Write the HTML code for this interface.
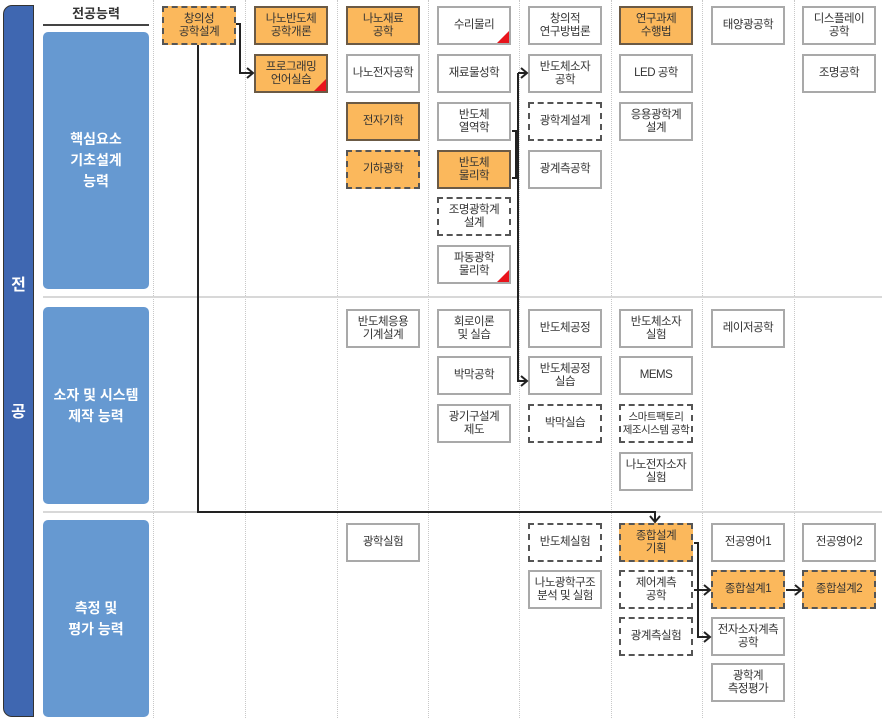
<!DOCTYPE html>
<html><head><meta charset="utf-8"><style>
*{margin:0;padding:0;box-sizing:border-box}
body{width:882px;height:728px;background:#fff;position:relative;overflow:hidden;font-family:"Liberation Sans","Noto Sans CJK KR",sans-serif}
.b{position:absolute;width:74px;height:39px;border:2px solid #a9a9a9;background:#fff;display:flex;align-items:center;justify-content:center;text-align:center;font-size:11.5px;line-height:13px;color:#333;letter-spacing:-0.5px;overflow:hidden}
.o{background:#fbb85c;border-color:#6b5a45}
.d{border:2px dashed #555}
.t::after{content:"";position:absolute;right:0;bottom:0;border-style:solid;border-width:0 0 12px 12px;border-color:transparent transparent #e8141c transparent}
.vd{position:absolute;top:0;height:718px;border-left:1px dotted #c8c8c8}
.hs{position:absolute;left:43px;right:0;height:2px;background:#d8d8d8}
.p{position:absolute;left:43px;width:106px;background:#6699d1;border-radius:5px;color:#fff;font-weight:bold;font-size:14px;line-height:21px;display:flex;align-items:center;justify-content:center;text-align:center}
</style></head><body>
<div style="position:absolute;left:3px;top:5px;width:31px;height:712px;background:#3f67b1;border:1.5px solid #333;border-radius:9px 0 0 9px"></div>
<div style="position:absolute;left:3px;width:31px;top:271px;text-align:center;color:#fff;font-weight:bold;font-size:16px">전</div>
<div style="position:absolute;left:3px;width:31px;top:398px;text-align:center;color:#fff;font-weight:bold;font-size:16px">공</div>
<div style="position:absolute;left:43px;width:106px;top:3px;text-align:center;font-weight:bold;font-size:13px;color:#333">전공능력</div>
<div style="position:absolute;left:43px;width:106px;top:24px;height:2px;background:#444"></div>

<div class="vd" style="left:153px"></div><div class="vd" style="left:245px"></div><div class="vd" style="left:337px"></div><div class="vd" style="left:428px"></div><div class="vd" style="left:519px"></div><div class="vd" style="left:611px"></div><div class="vd" style="left:702px"></div><div class="vd" style="left:794px"></div>
<div class="hs" style="top:296px"></div><div class="hs" style="top:511px"></div>

<div class="p" style="top:32px;height:257px">핵심요소<br>기초설계<br>능력</div>
<div class="p" style="top:307px;height:197px">소자 및 시스템<br>제작 능력</div>
<div class="p" style="top:520px;height:197px">측정 및<br>평가 능력</div>

<div class="b o d" style="left:162px;top:6px">창의성<br>공학설계</div>
<div class="b o" style="left:254px;top:6px">나노반도체<br>공학개론</div>
<div class="b o t" style="left:254px;top:54px">프로그래밍<br>언어실습</div>
<div class="b o" style="left:346px;top:6px">나노재료<br>공학</div>
<div class="b" style="left:346px;top:54px">나노전자공학</div>
<div class="b o" style="left:346px;top:102px">전자기학</div>
<div class="b o d" style="left:346px;top:150px">기하광학</div>
<div class="b t" style="left:437px;top:6px">수리물리</div>
<div class="b" style="left:437px;top:54px">재료물성학</div>
<div class="b" style="left:437px;top:102px">반도체<br>열역학</div>
<div class="b o" style="left:437px;top:150px">반도체<br>물리학</div>
<div class="b d" style="left:437px;top:197px">조명광학계<br>설계</div>
<div class="b t" style="left:437px;top:245px">파동광학<br>물리학</div>
<div class="b" style="left:528px;top:6px">창의적<br>연구방법론</div>
<div class="b" style="left:528px;top:54px">반도체소자<br>공학</div>
<div class="b d" style="left:528px;top:102px">광학계설계</div>
<div class="b" style="left:528px;top:150px">광계측공학</div>
<div class="b o" style="left:619px;top:6px">연구과제<br>수행법</div>
<div class="b" style="left:619px;top:54px">LED 공학</div>
<div class="b" style="left:619px;top:102px">응용광학계<br>설계</div>
<div class="b" style="left:711px;top:6px">태양광공학</div>
<div class="b" style="left:802px;top:6px">디스플레이<br>공학</div>
<div class="b" style="left:802px;top:54px">조명공학</div>

<div class="b" style="left:346px;top:309px">반도체응용<br>기계설계</div>
<div class="b" style="left:437px;top:309px">회로이론<br>및 실습</div>
<div class="b" style="left:437px;top:356px">박막공학</div>
<div class="b" style="left:437px;top:404px">광기구설계<br>제도</div>
<div class="b" style="left:528px;top:309px">반도체공정</div>
<div class="b" style="left:528px;top:356px">반도체공정<br>실습</div>
<div class="b d" style="left:528px;top:404px">박막실습</div>
<div class="b" style="left:619px;top:309px">반도체소자<br>실험</div>
<div class="b" style="left:619px;top:356px">MEMS</div>
<div class="b d" style="left:619px;top:404px;font-size:10.5px">스마트팩토리<br>제조시스템 공학</div>
<div class="b" style="left:619px;top:452px">나노전자소자<br>실험</div>
<div class="b" style="left:711px;top:309px">레이저공학</div>

<div class="b" style="left:346px;top:523px">광학실험</div>
<div class="b d" style="left:528px;top:523px">반도체실험</div>
<div class="b" style="left:528px;top:570px">나노광학구조<br>분석 및 실험</div>
<div class="b o d" style="left:619px;top:523px">종합설계<br>기획</div>
<div class="b d" style="left:619px;top:570px">제어계측<br>공학</div>
<div class="b d" style="left:619px;top:617px">광계측실험</div>
<div class="b" style="left:711px;top:523px">전공영어1</div>
<div class="b o d" style="left:711px;top:570px">종합설계1</div>
<div class="b" style="left:711px;top:617px">전자소자계측<br>공학</div>
<div class="b" style="left:711px;top:663px">광학계<br>측정평가</div>
<div class="b" style="left:802px;top:523px">전공영어2</div>
<div class="b o d" style="left:802px;top:570px">종합설계2</div>

<svg width="882" height="728" style="position:absolute;left:0;top:0" fill="none" stroke="#222" stroke-width="2">
<polyline points="236,24 240,24 240,73 253,73"/><polyline points="247,68 253,73 247,78"/>
<polyline points="198,45 198,512 655,512 655,522"/><polyline points="650,516 655,522 660,516"/>
<polyline points="512,131 516,131 516,178 512,178"/>
<polyline points="518,73 518,381 527,381"/><polyline points="518,73 527,73"/>
<polyline points="521,68 527,73 521,78"/><polyline points="521,376 527,381 521,386"/>
<polyline points="694,543 698,543 698,590 710,590"/><polyline points="704,585 710,590 704,595"/>
<polyline points="694,590 698,590 698,637 710,637"/><polyline points="704,632 710,637 704,642"/>
<polyline points="786,590 801,590"/><polyline points="795,585 801,590 795,595"/>
</svg>
</body></html>
